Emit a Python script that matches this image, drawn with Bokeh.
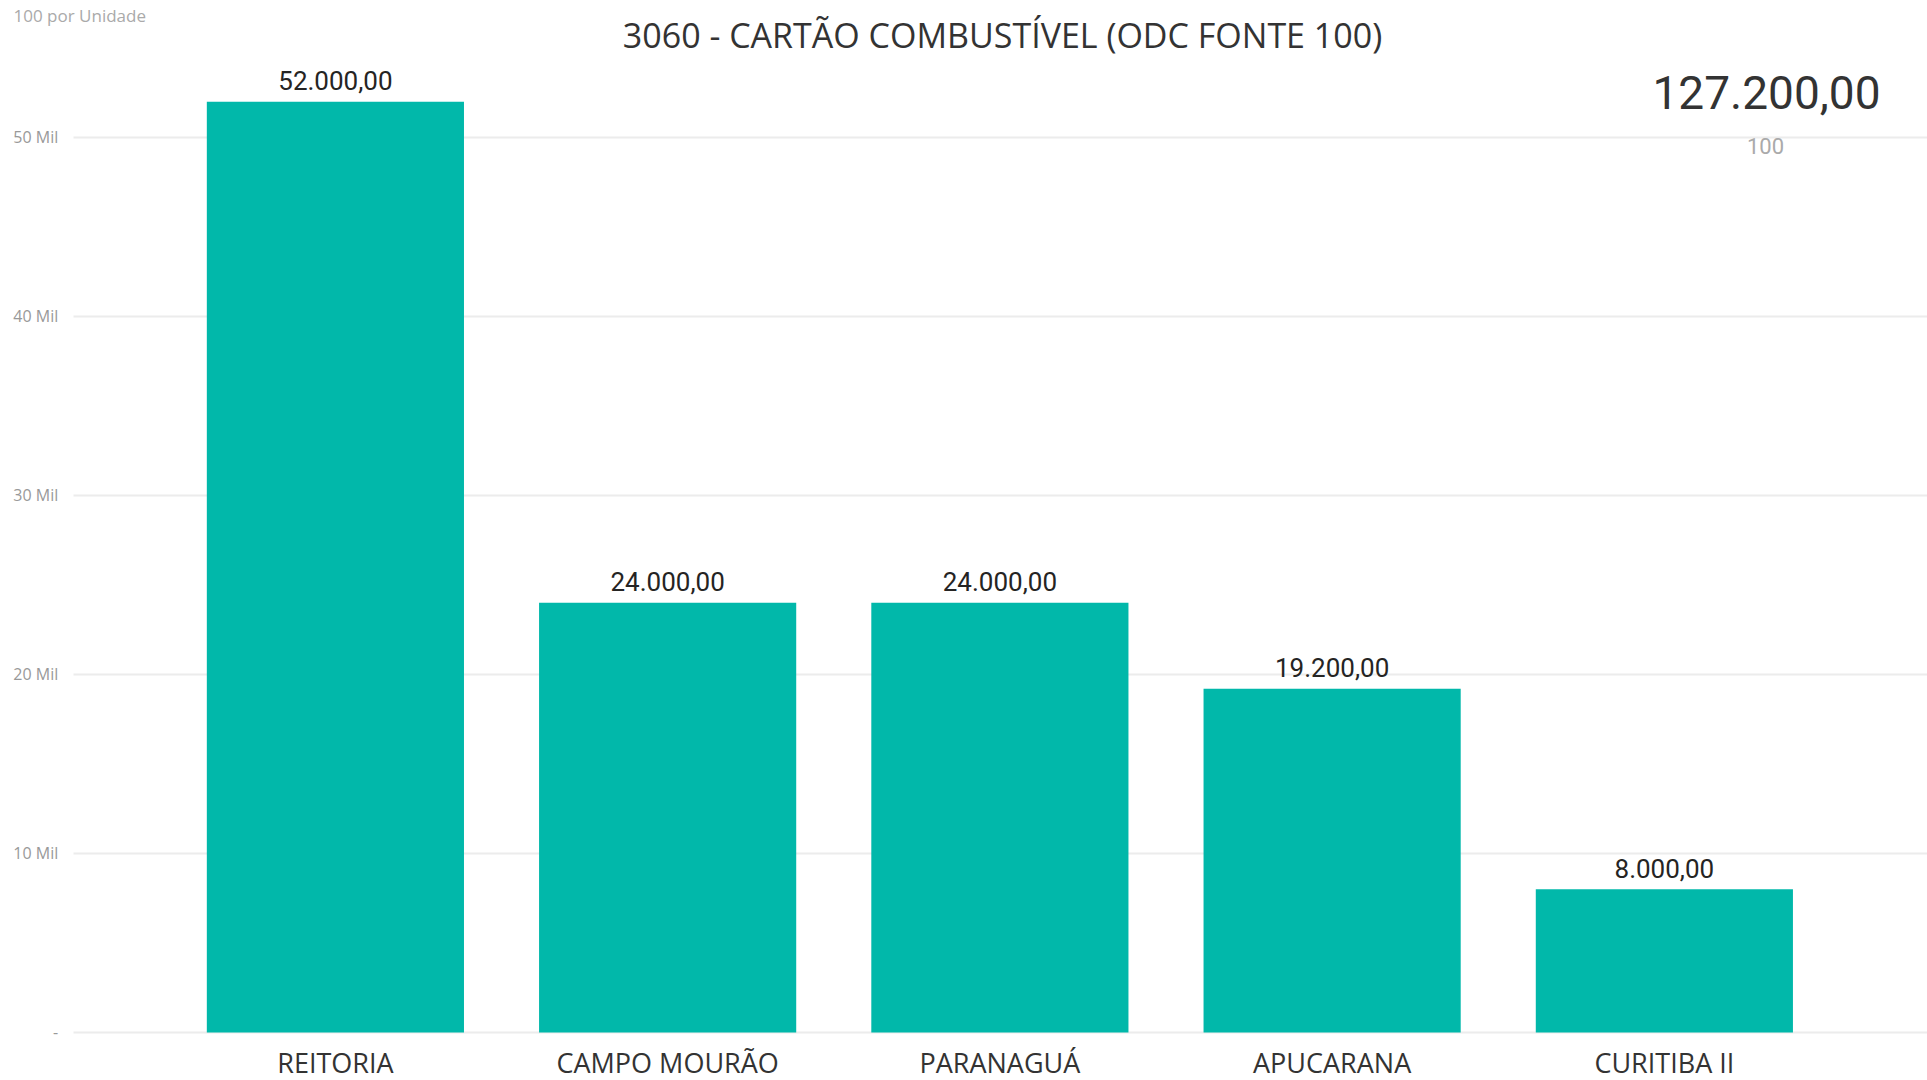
from bokeh.plotting import figure
from bokeh.models import Range1d, FixedTicker, ColumnDataSource, Label
from bokeh.core.properties import value
from bokeh.embed import file_html
from bokeh.resources import INLINE

# ---- data ----
categories = ["REITORIA", "CAMPO MOURÃO", "PARANAGUÁ", "APUCARANA", "CURITIBA II"]
values = [52000, 24000, 24000, 19200, 8000]
y_ticks = [0, 10000, 20000, 30000, 40000, 50000]
y_tick_labels = ["-", "10 Mil", "20 Mil", "30 Mil", "40 Mil", "50 Mil"]
title_text = "3060 - CARTÃO COMBUSTÍVEL (ODC FONTE 100)"
subtitle_text = "100 por Unidade"
kpi_caption = "100"


def fmt_br(v):
    s = f"{v:,.2f}"
    return s.replace(",", "X").replace(".", ",").replace("X", ".")


labels = [fmt_br(v) for v in values]
total_text = fmt_br(sum(values))
positions = list(range(len(categories)))

W, H = 1927, 1080
X0, X1 = -1.008, 4.792          # category-slot units (one slot per bar)
AXIS_X = -0.789                 # where the value axis sits

src = ColumnDataSource(dict(pos=positions, cat=categories, val=values, label=labels,
                            zero=[0] * len(categories)))

p = figure(
    width=W, height=H,
    x_range=Range1d(X0, X1),
    y_range=Range1d(-2682, 57650),
    x_axis_location=None,
    min_border=0, min_border_left=0, min_border_right=0,
    min_border_top=0, min_border_bottom=0,
    output_backend="svg", toolbar_location=None,
)
p.outline_line_color = None
p.background_fill_color = "white"
p.border_fill_color = "white"
p.xgrid.grid_line_color = None

p.vbar(x="pos", top="val", width=0.774, source=src, fill_color="#01B8AA", line_color=None)
p.text(x="pos", y="val", text="label", source=src, text_align="center",
       text_baseline="middle", y_offset=-21, text_font=value("Roboto"),
       text_font_size="26px", text_color="#252423")
# category labels under the bars
p.text(x="pos", y="zero", text="cat", source=src, text_align="center",
       text_baseline="middle", y_offset=30, text_font=value("Open Sans"),
       text_font_size="27px", text_color="#333333")

# value axis
ya = p.yaxis[0]
ya.fixed_location = AXIS_X
ya.ticker = FixedTicker(ticks=y_ticks)
ya.major_label_overrides = {t: l for t, l in zip(y_ticks, y_tick_labels)}
ya.axis_line_color = None
ya.major_tick_line_color = None
ya.minor_tick_line_color = None
ya.major_tick_out = 0
ya.major_tick_in = 0
ya.major_label_text_font = "Open Sans"
ya.major_label_text_font_size = "16px"
ya.major_label_text_color = "#999999"
ya.major_label_standoff = 15
p.ygrid.grid_line_color = "#ececec"
p.ygrid.grid_line_width = 2
p.ygrid.cross_bounds = (AXIS_X, X1)

# header texts (screen units from the frame's bottom-left corner)
p.add_layout(Label(x=13, y=1065, x_units="screen", y_units="screen", text=subtitle_text,
                   text_align="left", text_baseline="middle",
                   text_font="Open Sans", text_font_size="17px", text_color="#aaaaaa"))
p.add_layout(Label(x=1002, y=1046, x_units="screen", y_units="screen", text=title_text,
                   text_align="center", text_baseline="middle",
                   text_font="Open Sans", text_font_size="34px", text_color="#333333"))
# KPI card (total) at top right
p.add_layout(Label(x=1766, y=988, x_units="screen", y_units="screen", text=total_text,
                   text_align="center", text_baseline="middle",
                   text_font="Roboto", text_font_size="46px", text_color="#333333"))
p.add_layout(Label(x=1765, y=935, x_units="screen", y_units="screen", text=kpi_caption,
                   text_align="center", text_baseline="middle",
                   text_font="Roboto", text_font_size="22px", text_color="#aaaaaa"))

open("out.html", "w").write(file_html(p, INLINE))
